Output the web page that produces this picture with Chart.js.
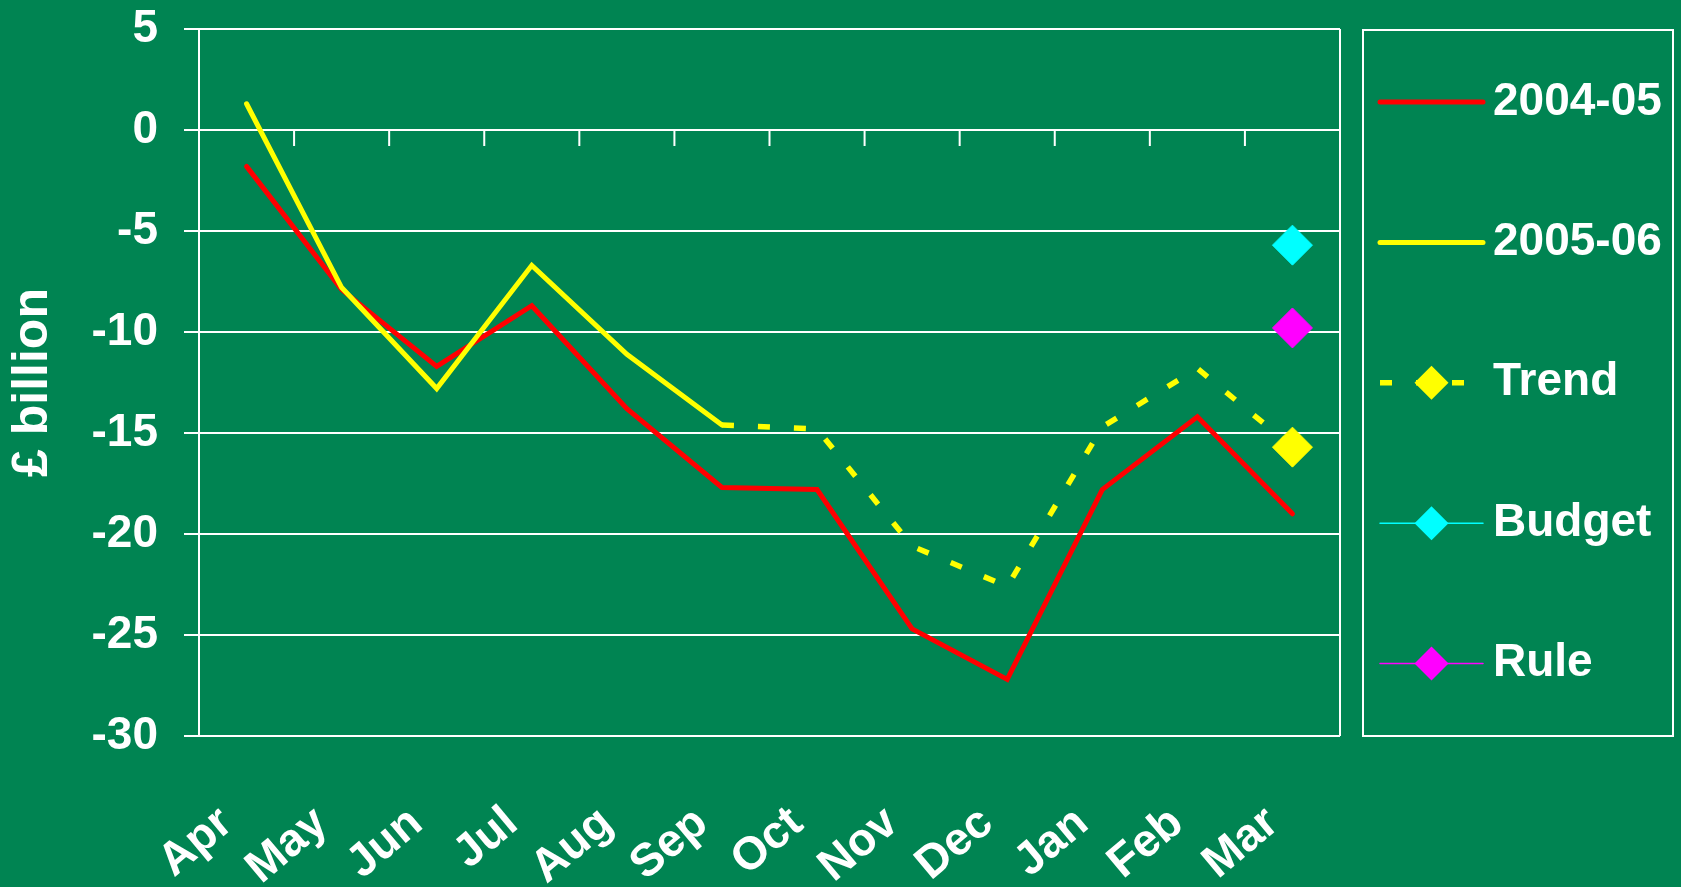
<!DOCTYPE html>
<html>
<head>
<meta charset="utf-8">
<title>Public sector borrowing</title>
<script src="https://cdn.jsdelivr.net/npm/chart.js@4.4.0/dist/chart.umd.min.js"></script>
<style>
  html, body { margin: 0; padding: 0; background: #008452; }
  #wrap { width: 1681px; height: 887px; }
</style>
</head>
<body>
<div id="wrap"><canvas id="borrowingChart" width="1681" height="887"></canvas></div>
<script>
const months = ['Apr', 'May', 'Jun', 'Jul', 'Aug', 'Sep', 'Oct', 'Nov', 'Dec', 'Jan', 'Feb', 'Mar']
const y0405 = [-1.8, -7.9, -11.7, -8.7, -13.8, -17.7, -17.8, -24.7, -27.2, -17.8, -14.2, -19.0]
const y0506 = [1.3, -7.8, -12.8, -6.7, -11.1, -14.6, null, null, null, null, null, null]
const trend = [null, null, null, null, null, -14.6, -14.8, -20.6, -22.6, -14.7, -11.8, -15.7]
const budget = [null, null, null, null, null, null, null, null, null, null, null, -5.7]
const rule = [null, null, null, null, null, null, null, null, null, null, null, -9.8]
const yTicks = { min: -30, max: 5, step: 5 }

const green = '#008452'
const white = '#ffffff'

Chart.defaults.font.family = '"Liberation Sans", Arial, sans-serif'
Chart.defaults.font.weight = 'bold'
Chart.defaults.color = white

const lastOnly = r => ctx => ctx.dataIndex === months.length - 1 ? r : 0

// plot frame: right edge + little ticks hanging off the zero line
const plotFrame = {
    id: 'plotFrame',
    beforeDraw(chart) {
        const ctx = chart.ctx
        ctx.save()
        ctx.fillStyle = green
        ctx.fillRect(0, 0, chart.width, chart.height)
        ctx.restore()
    },
    beforeDatasetsDraw(chart) {
        const { ctx, chartArea, scales: { x, y } } = chart
        ctx.save()
        ctx.strokeStyle = white
        ctx.lineWidth = 2
        ctx.beginPath()
        ctx.moveTo(chartArea.right, chartArea.top)
        ctx.lineTo(chartArea.right, chartArea.bottom)
        const y0 = y.getPixelForValue(0)
        for (let i = 1; i < months.length; i++) {
            const xb = (x.getPixelForValue(i - 1) + x.getPixelForValue(i)) / 2
            ctx.moveTo(xb, y0)
            ctx.lineTo(xb, y0 + 16)
        }
        ctx.stroke()
        ctx.restore()
    }
}

// boxed legend on the right, line sample + marker like the original
const boxLegend = {
    id: 'boxLegend',
    afterDraw(chart) {
        const { ctx, chartArea } = chart
        const left = chartArea.right + 23
        const right = chart.width - 8
        const top = chartArea.top + 1
        const bottom = chartArea.bottom
        ctx.save()
        ctx.strokeStyle = white
        ctx.lineWidth = 2
        ctx.strokeRect(left, top, right - left, bottom - top)

        chart.data.datasets.forEach((ds, i) => {
            const cy = top + 72 + i * 140.4
            const x0 = left + 17
            const x1 = left + 120
            ctx.beginPath()
            ctx.setLineDash(ds.borderDash || [])
            ctx.lineCap = ds.borderDash ? 'butt' : 'round'
            ctx.lineWidth = ds.borderWidth
            ctx.strokeStyle = ds.borderColor
            ctx.moveTo(x0, cy)
            ctx.lineTo(x1, cy)
            ctx.stroke()
            ctx.setLineDash([])
            if (ds.legendMarker) {
                ctx.fillStyle = ds.pointBackgroundColor
                Chart.helpers.drawPoint(ctx, { pointStyle: 'rectRot', radius: 17, borderWidth: 0, rotation: 0 }, (x0 + x1) / 2, cy)
            }
            ctx.fillStyle = white
            ctx.font = 'bold 46px "Liberation Sans", Arial, sans-serif'
            ctx.textBaseline = 'middle'
            ctx.textAlign = 'left'
            ctx.fillText(ds.label, left + 130, cy)
        })
        ctx.restore()
    }
}

const ctx = document.getElementById('borrowingChart').getContext('2d')
const borrowingChart = new Chart(ctx, {
    type: 'line',
    data: {
        labels: months,
        datasets: [
            {
                label: '2004-05',
                data: y0405,
                borderColor: '#ff0000',
                borderWidth: 5,
                borderCapStyle: 'round',
                pointRadius: 0,
                order: 5
            },
            {
                label: '2005-06',
                data: y0506,
                borderColor: '#ffff00',
                borderWidth: 5,
                borderCapStyle: 'round',
                pointRadius: 0,
                order: 4
            },
            {
                label: 'Trend',
                data: trend,
                borderColor: '#ffff00',
                borderWidth: 5.5,
                borderDash: [12, 24],
                pointStyle: 'rectRot',
                pointRadius: lastOnly(20),
                pointBackgroundColor: '#ffff00',
                pointBorderColor: '#ffff00',
                pointBorderWidth: 1,
                legendMarker: true,
                order: 3
            },
            {
                label: 'Budget',
                data: budget,
                borderColor: '#00ffff',
                borderWidth: 1.5,
                pointStyle: 'rectRot',
                pointRadius: 20,
                pointBackgroundColor: '#00ffff',
                pointBorderColor: '#00ffff',
                pointBorderWidth: 1,
                legendMarker: true,
                order: 2
            },
            {
                label: 'Rule',
                data: rule,
                borderColor: '#ff00ff',
                borderWidth: 1.5,
                pointStyle: 'rectRot',
                pointRadius: 20,
                pointBackgroundColor: '#ff00ff',
                pointBorderColor: '#ff00ff',
                pointBorderWidth: 1,
                legendMarker: true,
                order: 1
            }
        ]
    },
    options: {
        responsive: false,
        animation: false,
        devicePixelRatio: 1,
        layout: { padding: { top: 29, right: 341, left: 0, bottom: 0 } },
        plugins: {
            legend: { display: false },
            tooltip: { enabled: false }
        },
        elements: { line: { tension: 0 } },
        scales: {
            x: {
                offset: true,
                grid: { display: false, drawTicks: false },
                border: { display: false },
                ticks: {
                    color: white,
                    font: { size: 46, weight: 'bold' },
                    autoSkip: false,
                    minRotation: 40,
                    maxRotation: 40,
                    padding: 60,
                    labelOffset: -20
                },
                afterFit: s => { s.height = 151 }
            },
            y: {
                min: yTicks.min,
                max: yTicks.max,
                ticks: {
                    stepSize: yTicks.step,
                    color: white,
                    font: { size: 46, weight: 'bold' },
                    padding: 26
                },
                grid: { color: white, lineWidth: 2, tickLength: 15, tickColor: white },
                border: { color: white, width: 2 },
                title: {
                    display: true,
                    text: '£ billion',
                    color: white,
                    font: { size: 50, weight: 'bold' },
                    padding: { top: 3, bottom: 0 }
                },
                afterFit: s => {
                    s.width = 199
                    // don't let the tick label padding push the plot down
                    s.paddingTop = 0
                    s.paddingBottom = 0
                }
            }
        }
    },
    plugins: [plotFrame, boxLegend]
})
</script>
</body>
</html>
